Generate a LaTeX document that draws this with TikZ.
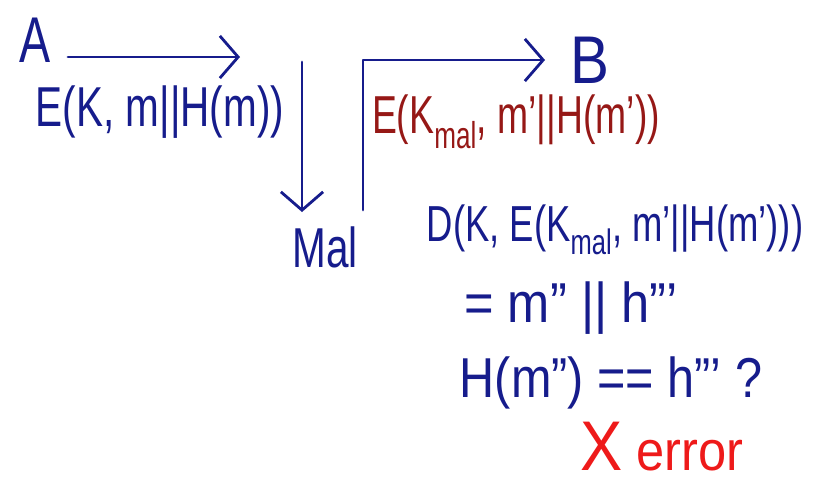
\documentclass[tikz,border=0pt]{standalone}
\usepackage{fontspec}
\setmainfont{Liberation Sans}
\usetikzlibrary{arrows.meta}
\definecolor{penblue}{RGB}{22,28,140}
\definecolor{penbrown}{RGB}{150,24,22}
\definecolor{penred}{RGB}{238,26,26}
\begin{document}
\begin{tikzpicture}[x=0.025cm, y=-0.025cm,
				pen/.style={line width=2pt, penblue, line cap=round, line join=round},
				barb/.style={-{Straight Barb[length=13pt, width=30pt, line width=2pt]}},
				hand/.style={inner sep=0pt, penblue, xscale=0.72, font=\fontsize{40}{44}\selectfont}
				]
				\useasboundingbox (0,0) rectangle (814,489);
				
				\begin{scope}
				\node[hand, font=\fontsize{46}{50}\selectfont] (A) at (35,40) {A};
				\draw[pen, barb] (68,57) coordinate (a0) -- (240,57) coordinate (a1);
				\node[hand] (msgA) at (160,112) {E(K, m||H(m))};
				
				\node[hand, inner sep=10pt] (mal) at (325,247) {Mal};
				\draw[pen, barb] (302,62) coordinate (m0) -- (m0 |- mal.north);
				\draw[pen, barb] (363,210) coordinate (m1) |- (545,60) coordinate (b1);
				
				\node[hand, xscale=1.2, font=\fontsize{48}{52}\selectfont] (B) at (590,60) {B};
				\node[hand, penbrown, xscale=0.97, font=\fontsize{38}{42}\selectfont] (msgM) at (516,122) {E(K\textsubscript{mal}, m'||H(m'))};
				\end{scope}
				
				\node[hand, font=\fontsize{36}{40}\selectfont] (dec) at (615,230) {D(K, E(K\textsubscript{mal}, m'||H(m')))};
				\node[hand, xscale=1.25] (split) at (571,308) {= m'' || h'''};
				\node[hand, xscale=1.2] (check) at (611,383) {H(m'') == h''' ?};
				\node[hand, penred, xscale=1.25] (err) at (662,447) {{\fontsize{50}{50}\selectfont X} error};
				\end{tikzpicture}
\end{document}
